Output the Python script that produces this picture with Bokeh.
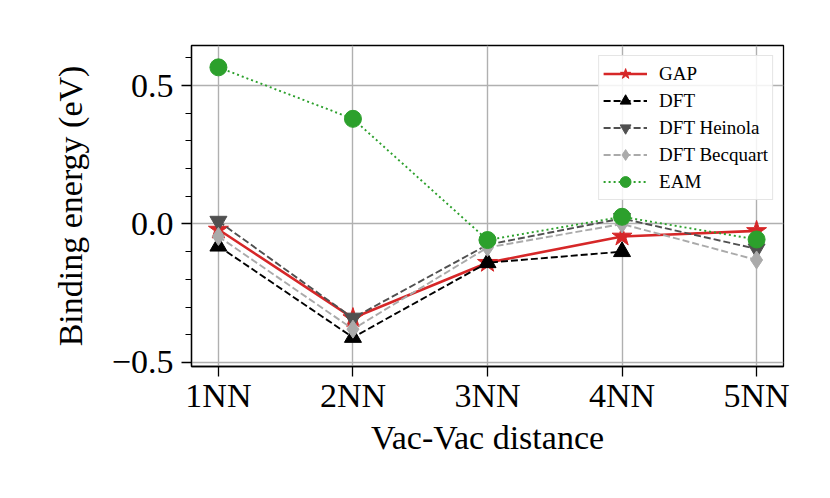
from bokeh.plotting import figure
from bokeh.models import Range1d, FixedTicker, Legend, LegendItem
from bokeh.embed import file_html
from bokeh.resources import INLINE

categories = ["1NN", "2NN", "3NN", "4NN", "5NN"]
gap = [-0.02, -0.34, -0.14, -0.045, -0.025]
dft = [-0.08, -0.41, -0.14, -0.10]
dft_heinola = [0.01, -0.34, -0.075, 0.02, -0.09]
dft_becquart = [-0.045, -0.38, -0.085, 0.0, -0.13]
eam = [0.566, 0.38, -0.058, 0.026, -0.056]
y_ticks = [-0.5, 0.0, 0.5]
y_tick_labels = ["\u22120.5", "0.0", "0.5"]

FONT = "Liberation Serif"

p = figure(width=814, height=482, output_backend="svg", toolbar_location=None,
           x_range=Range1d(0.8, 5.2), y_range=Range1d(-0.515, 0.645),
           min_border_left=191, min_border_right=31, min_border_top=45,
           min_border_bottom=116)

p.outline_line_color = "black"
p.outline_line_width = 1.3
p.background_fill_color = "white"
p.border_fill_color = "white"

xs = list(range(1, len(categories) + 1))

def series(x, y, color, dash, lw, marker, size):
    ln = p.line(x, y, line_color=color, line_width=lw, line_dash=dash)
    sc = p.scatter(x, y, marker=marker, size=size, fill_color=color, line_color=color)
    return [ln, sc]

r_gap = series(xs, gap, "#d62728", "solid", 2.6, "star", 21)
r_dft = series(xs[:len(dft)], dft, "black", "7 3", 1.9, "triangle", 17)
r_hei = series(xs, dft_heinola, "#505050", "7 3", 1.9, "inverted_triangle", 17)
r_bec = series(xs, dft_becquart, "#aaaaaa", "7 3", 1.9, "diamond", 18)
r_eam = series(xs, eam, "#2ca02c", "2 3", 1.9, "circle", 17)

# axes
p.xaxis.ticker = FixedTicker(ticks=xs)
p.xaxis.major_label_overrides = {x: c for x, c in zip(xs, categories)}
p.yaxis.ticker = FixedTicker(ticks=y_ticks, minor_ticks=[round(-0.5 + 0.1 * i, 2) for i in range(12)])
p.yaxis.major_label_overrides = {t: l for t, l in zip(y_ticks, y_tick_labels)}

for ax in (p.xaxis, p.yaxis):
    ax.major_label_text_font = FONT
    ax.major_label_text_font_size = "34px"
    ax.major_label_text_color = "black"
    ax.axis_label_text_font = FONT
    ax.axis_label_text_font_size = "34px"
    ax.axis_label_text_font_style = "normal"
    ax.axis_label_text_color = "black"
    ax.axis_line_color = "black"
    ax.axis_line_width = 1.3
    ax.major_tick_line_color = "black"
    ax.major_tick_line_width = 1.3
    ax.major_tick_out = 10
    ax.major_tick_in = 0
    ax.minor_tick_line_color = "black"
    ax.minor_tick_line_width = 1.0
    ax.minor_tick_out = 6
    ax.minor_tick_in = 0

p.xaxis.minor_tick_line_color = None
p.xaxis.axis_label = "Vac-Vac distance"
p.yaxis.axis_label = "Binding energy (eV)"
p.xaxis.major_label_standoff = 0
p.yaxis.major_label_standoff = 8
p.xaxis.axis_label_standoff = 2
p.yaxis.axis_label_standoff = 20

p.xgrid.grid_line_color = "#b0b0b0"
p.ygrid.grid_line_color = "#b0b0b0"
p.xgrid.grid_line_width = 1.4
p.ygrid.grid_line_width = 1.4
p.ygrid.ticker = FixedTicker(ticks=y_ticks)
p.xgrid.ticker = FixedTicker(ticks=xs)

legend = Legend(items=[
    LegendItem(label="GAP", renderers=r_gap),
    LegendItem(label="DFT", renderers=r_dft),
    LegendItem(label="DFT Heinola", renderers=r_hei),
    LegendItem(label="DFT Becquart", renderers=r_bec),
    LegendItem(label="EAM", renderers=r_eam),
], location="top_right")
legend.label_text_font = FONT
legend.label_text_font_size = "19px"
legend.label_text_color = "black"
legend.glyph_width = 44
legend.glyph_height = 27
legend.label_height = 20
legend.label_standoff = 12
legend.spacing = 0
legend.padding = 4
legend.margin = 10
legend.border_line_color = "#cccccc"
legend.border_line_width = 1.3
legend.background_fill_alpha = 0.85
p.add_layout(legend)

open("out.html", "w").write(file_html(p, INLINE))
